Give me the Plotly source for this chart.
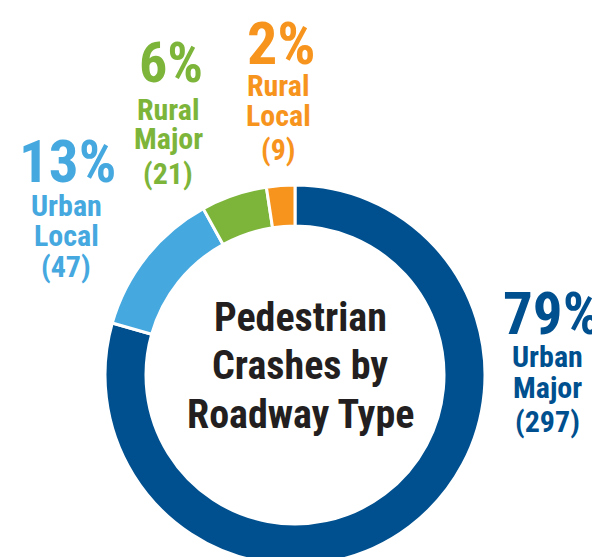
import plotly.graph_objects as go

# ---- data ----
categories = ["Urban Major", "Urban Local", "Rural Major", "Rural Local"]
label_line1 = ["Urban", "Urban", "Rural", "Rural"]
label_line2 = ["Major", "Local", "Major", "Local"]
crashes = [297, 47, 21, 9]
colors = ["#00508F", "#45A8DF", "#7DB53A", "#F7941D"]
title_lines = ["Pedestrian", "Crashes by", "Roadway Type"]

W, H = 600, 557
FONT = "Roboto Condensed, Roboto, sans-serif"

total = sum(crashes)
pcts = [round(100 * v / total) for v in crashes]

# layout positions (pixels) for each category's label block
blocks = {
    "Urban Major": dict(big=(543, 305), small_x=539, ys=(348, 379, 413), big_size=59),
    "Urban Local": dict(big=(59, 153), small_x=58, ys=(197, 227, 258), big_size=59),
    "Rural Major": dict(big=(163, 55), small_x=160, ys=(102, 131, 165), big_size=56),
    "Rural Local": dict(big=(273, 35), small_x=270, ys=(77, 108, 141), big_size=60),
}

def px(x, y):
    return x / W, 1 - y / H

cx, cy, R, r = 287, 367, 190, 149

fig = go.Figure(go.Pie(
    labels=categories,
    values=crashes,
    sort=False,
    direction="clockwise",
    rotation=0,
    hole=r / R,
    marker=dict(colors=colors, line=dict(color="white", width=3)),
    textinfo="none",
    hoverinfo="label+value+percent",
    showlegend=False,
    domain=dict(x=[(cx - R) / W, (cx + R) / W], y=[max(0, 1 - (cy + R) / H), 1 - (cy - R) / H]),
))

annotations = []
for cat, l1, l2, v, p, c in zip(categories, label_line1, label_line2, crashes, pcts, colors):
    b = blocks[cat]
    x, y = px(*b["big"])
    annotations.append(dict(text=f"<b>{p}%</b>", x=x, y=y, xref="paper", yref="paper",
                            xanchor="center", yanchor="middle", showarrow=False,
                            font=dict(family=FONT, size=b["big_size"], color=c)))
    for t, yy in zip([l1, l2, f"({v})"], b["ys"]):
        x, y = px(b["small_x"], yy)
        annotations.append(dict(text=f"<b>{t}</b>", x=x, y=y, xref="paper", yref="paper",
                                xanchor="center", yanchor="middle", showarrow=False,
                                font=dict(family=FONT, size=30, color=c)))

for t, yy in zip(title_lines, (309, 357, 406)):
    x, y = px(292, yy)
    annotations.append(dict(text=f"<b>{t}</b>", x=x, y=y, xref="paper", yref="paper",
                            xanchor="center", yanchor="middle", showarrow=False,
                            font=dict(family=FONT, size=40, color="#231F20")))

fig.update_layout(
    width=W, height=H,
    margin=dict(l=0, r=0, t=0, b=0),
    paper_bgcolor="white", plot_bgcolor="white",
    annotations=annotations,
)

fig.write_html("out.html")
